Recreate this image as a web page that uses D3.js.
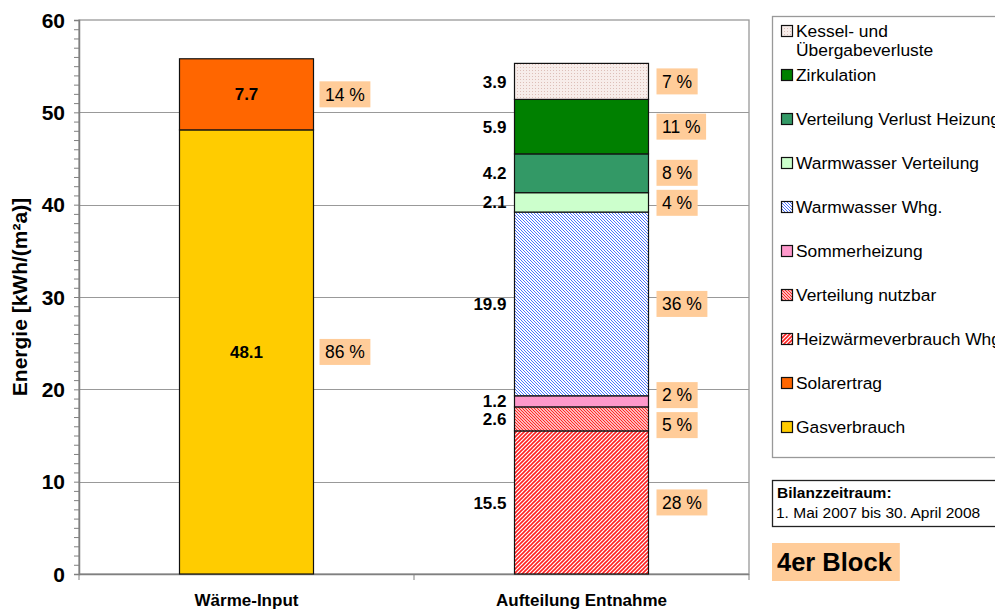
<!DOCTYPE html>
<html><head><meta charset="utf-8">
<script src="https://cdn.jsdelivr.net/npm/d3@7"></script>
<style>body{margin:0;background:#fff}svg{display:block;font-family:"Liberation Sans",Arial,sans-serif}</style>
</head><body><svg id="c" width="995" height="609"></svg>
<script>
// ---- data ----
const categories = ["Wärme-Input", "Aufteilung Entnahme"];
const seriesNames = ["Gasverbrauch", "Solarertrag", "Heizwärmeverbrauch Whg", "Verteilung nutzbar",
  "Sommerheizung", "Warmwasser Whg.", "Warmwasser Verteilung", "Verteilung Verlust Heizung",
  "Zirkulation", "Kessel- und Übergabeverluste"];
const gasverbrauch        = [48.1, 0];
const solarertrag         = [7.7, 0];
const heizwaerme          = [0, 15.5];
const verteilungNutzbar   = [0, 2.6];
const sommerheizung       = [0, 1.2];
const warmwasserWhg       = [0, 19.9];
const warmwasserVert      = [0, 2.1];
const verteilungVerlust   = [0, 4.2];
const zirkulation         = [0, 5.9];
const kesselVerluste      = [0, 3.9];
const pctInput   = [86, 14];                       // Gasverbrauch, Solarertrag
const pctEntnahme = [28, 5, 2, 36, 4, 8, 11, 7];   // Heizwärme ... Kessel
const yTicks = [0, 10, 20, 30, 40, 50, 60];
const periodTitle = "Bilanzzeitraum:";
const periodText = "1. Mai 2007 bis 30. April 2008";
const blockLabel = "4er Block";
const yTitle = "Energie [kWh/(m²a)]";

const seriesValues = [gasverbrauch, solarertrag, heizwaerme, verteilungNutzbar, sommerheizung,
  warmwasserWhg, warmwasserVert, verteilungVerlust, zirkulation, kesselVerluste];
const seriesPct = [[pctInput[0], null], [pctInput[1], null]].concat(pctEntnahme.map(p => [null, p]));

// ---- styles ----
const fills = ["#FFCC00", "#FF6600", "url(#pHeiz)", "url(#pVert)", "#FF99CC", "url(#pWW)",
  "#CCFFCC", "#339966", "#008000", "url(#pDots)"];

const svg = d3.select("#c");
const defs = svg.append("defs");
function hatch(id, color, size, dir, w) {
  const p = defs.append("pattern").attr("id", id).attr("patternUnits", "userSpaceOnUse")
    .attr("width", size).attr("height", size);
  p.append("rect").attr("width", size).attr("height", size).attr("fill", "#fff");
  const d = dir > 0
    ? `M0,${size} L${size},0 M${-size},${size} L${size},${-size} M0,${2*size} L${2*size},0`
    : `M0,0 L${size},${size} M${-size},0 L${size},${2*size} M0,${-size} L${2*size},${size}`;
  p.append("path").attr("d", d).attr("stroke", color).attr("stroke-width", w);
}
hatch("pHeiz", "#FF2020", 4, 1, 1.6);
hatch("pVert", "#FF2020", 3, -1, 1.2);
hatch("pWW", "#3864FF", 3, -1, 0.9);
{
  const p = defs.append("pattern").attr("id", "pDots").attr("patternUnits", "userSpaceOnUse")
    .attr("width", 3).attr("height", 3);
  p.append("rect").attr("width", 3).attr("height", 3).attr("fill", "#F7EDEA");
  p.append("rect").attr("x", 1).attr("y", 1).attr("width", 1).attr("height", 1).attr("fill", "#DDBFB8");
}

// ---- scales ----
const L = 79, R = 749, T = 20, B = 574;
const y = d3.scaleLinear().domain([0, 60]).range([B, T]);
const x = d3.scaleBand().domain(categories).range([L, R]).paddingInner(0.6).paddingOuter(0.3);

// plot border + gridlines
svg.append("rect").attr("x", L).attr("y", T).attr("width", R - L).attr("height", B - T)
  .attr("fill", "none").attr("stroke", "#999").attr("stroke-width", 1.3);
svg.append("g").selectAll("line").data(yTicks.filter(t => t > 0 && t < 60)).join("line")
  .attr("x1", L).attr("x2", R).attr("y1", d => Math.round(y(d)) + 0.5).attr("y2", d => Math.round(y(d)) + 0.5)
  .attr("stroke", "#999").attr("stroke-width", 1.2);

// y axis
const yAxisG = svg.append("g").attr("transform", `translate(${L},0)`)
  .call(d3.axisLeft(y).tickValues(d3.range(0, 61, 1)).tickSize(5).tickFormat(""));
yAxisG.select(".domain").attr("stroke", "#808080").attr("stroke-width", 1.5);
yAxisG.selectAll(".tick line").attr("stroke", "#808080");
svg.append("g").selectAll("text").data(yTicks).join("text")
  .attr("x", 65).attr("y", d => y(d)).attr("dy", "0.36em").attr("text-anchor", "end")
  .attr("font-size", 21).attr("font-weight", "bold").text(d => d);
svg.append("text").attr("transform", `translate(27,${(T + B) / 2}) rotate(-90)`)
  .attr("text-anchor", "middle").attr("font-size", 21).attr("font-weight", "bold").text(yTitle);

// x axis
svg.append("line").attr("x1", L).attr("x2", R).attr("y1", B + 0.5).attr("y2", B + 0.5)
  .attr("stroke", "#808080").attr("stroke-width", 1.5);
const xb = [L, (L + R) / 2, R];
svg.append("g").selectAll("line").data(xb).join("line")
  .attr("x1", d => d).attr("x2", d => d).attr("y1", B).attr("y2", B + 6).attr("stroke", "#808080");
svg.append("g").selectAll("text").data(categories).join("text")
  .attr("x", d => x(d) + x.bandwidth() / 2).attr("y", 606).attr("text-anchor", "middle")
  .attr("font-size", 17).attr("font-weight", "bold").text(d => d);

// ---- stacked bars ----
const table = categories.map((c, ci) => {
  const o = { cat: c };
  seriesNames.forEach((s, si) => o[s] = seriesValues[si][ci]);
  return o;
});
const stacked = d3.stack().keys(seriesNames)(table);
const barG = svg.append("g");
stacked.forEach((layer, si) => {
  layer.forEach((seg, ci) => {
    const v = seg[1] - seg[0];
    if (v <= 0) return;
    barG.append("rect").attr("x", x(categories[ci])).attr("width", x.bandwidth())
      .attr("y", y(seg[1])).attr("height", y(seg[0]) - y(seg[1]))
      .attr("fill", fills[si]).attr("stroke", "#111").attr("stroke-width", 1.2);
  });
});

// value labels
const labG = svg.append("g").attr("font-size", 17).attr("font-weight", "bold");
const pctItems = [];
stacked.forEach((layer, si) => {
  layer.forEach((seg, ci) => {
    const v = seg[1] - seg[0];
    if (v <= 0) return;
    const mid = y((seg[0] + seg[1]) / 2);
    const bx = x(categories[ci]);
    if (ci === 0) {
      labG.append("text").attr("x", bx + x.bandwidth() / 2).attr("y", mid).attr("dy", "0.36em")
        .attr("text-anchor", "middle").text(d3.format(".1f")(v));
    } else {
      labG.append("text").attr("x", bx - 8).attr("y", mid).attr("dy", "0.36em")
        .attr("text-anchor", "end").text(d3.format(".1f")(v));
    }
    const p = seriesPct[si][ci];
    if (p != null) pctItems.push({ ci, y: mid, text: p + " %", x: bx + x.bandwidth() + (ci === 0 ? 6 : 8) });
  });
});
// spread percentage boxes so they don't overlap
[0, 1].forEach(ci => {
  const items = pctItems.filter(d => d.ci === ci).sort((a, b) => a.y - b.y);
  for (let it = 0; it < 50; it++) {
    for (let i = 1; i < items.length; i++) {
      const gap = items[i].y - items[i - 1].y;
      if (gap < 30) { const s = (30 - gap) / 2; items[i].y += s; items[i - 1].y -= s; }
    }
  }
});
const pG = svg.append("g");
pctItems.forEach(d => {
  const g = pG.append("g");
  const r = g.append("rect");
  const t = g.append("text").attr("x", d.x + 5.5).attr("y", d.y).attr("dy", "0.36em")
    .attr("font-size", 17.5).text(d.text);
  const w = t.node().getComputedTextLength() + 11;
  r.attr("x", d.x).attr("y", d.y - 13).attr("width", w).attr("height", 26).attr("fill", "#FFCC99");
});

// ---- legend ----
svg.append("rect").attr("x", 772.5).attr("y", 16.5).attr("width", 240).attr("height", 441)
  .attr("fill", "#fff").attr("stroke", "#999").attr("stroke-width", 1.3);
const legOrder = seriesNames.map((s, i) => i).reverse();
const lg = svg.append("g").attr("font-size", 17.4);
legOrder.forEach((si, k) => {
  const cy = k === 0 ? 31 : 75 + (k - 1) * 44;
  lg.append("rect").attr("x", 781.5).attr("y", cy - 5.5).attr("width", 11).attr("height", 11)
    .attr("fill", fills[si]).attr("stroke", "#111").attr("stroke-width", 1.2);
  const name = seriesNames[si];
  if (name.startsWith("Kessel")) {
    lg.append("text").attr("x", 796).attr("y", cy).attr("dy", "0.36em").text("Kessel- und");
    lg.append("text").attr("x", 796).attr("y", cy + 19).attr("dy", "0.36em").text("Übergabeverluste");
  } else {
    lg.append("text").attr("x", 796).attr("y", cy).attr("dy", "0.36em").text(name);
  }
});

// period box
svg.append("rect").attr("x", 772.5).attr("y", 480.5).attr("width", 240).attr("height", 46)
  .attr("fill", "#fff").attr("stroke", "#222").attr("stroke-width", 1.3);
svg.append("text").attr("x", 777).attr("y", 498).attr("font-size", 15.5).attr("font-weight", "bold").text(periodTitle);
svg.append("text").attr("x", 776).attr("y", 518).attr("font-size", 15.5).text(periodText);

// block label
const blk = svg.append("g");
const br = blk.append("rect");
const bt = blk.append("text").attr("x", 777).attr("y", 571).attr("font-size", 25.5)
  .attr("font-weight", "bold").text(blockLabel);
const bw = bt.node().getComputedTextLength();
br.attr("x", 772).attr("y", 543).attr("width", bw + 13).attr("height", 38).attr("fill", "#FFCC99");
</script></body></html>
